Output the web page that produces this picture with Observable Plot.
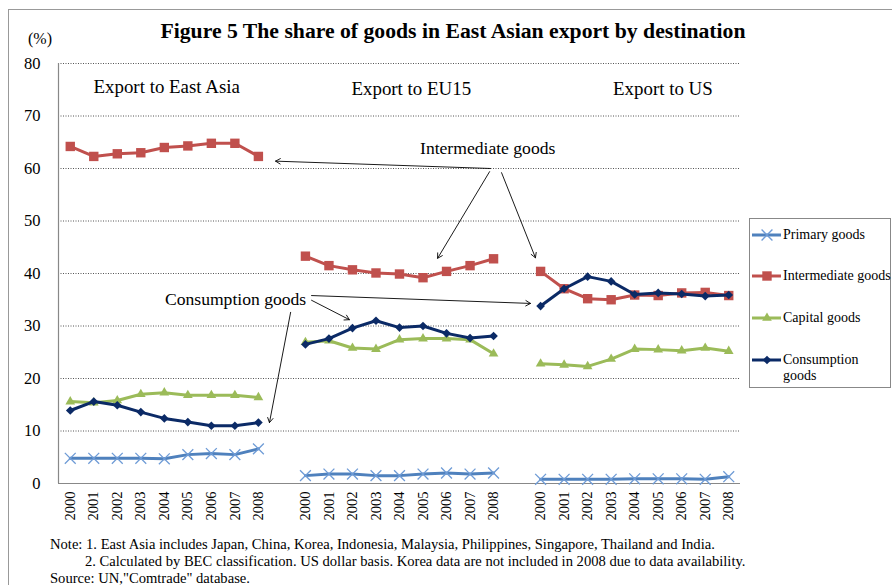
<!DOCTYPE html>
<html><head><meta charset="utf-8">
<script src="https://cdn.jsdelivr.net/npm/d3@7"></script>
<script src="https://cdn.jsdelivr.net/npm/@observablehq/plot@0.6"></script>
<style>
body{margin:0;background:#fff;}
#page{position:relative;width:892px;height:585px;overflow:hidden;font-family:"Liberation Serif","Times New Roman",serif;color:#000;}
#chart{position:absolute;left:0;top:0;}
.frame{position:absolute;left:8px;top:9px;width:900px;height:600px;border-left:1px solid #999;border-top:1px solid #999;}
#title{position:absolute;left:0;width:906px;top:18px;text-align:center;font-weight:bold;font-size:21.7px;line-height:26px;}
#unit{position:absolute;left:28px;top:30px;font-size:16px;}
#legend{position:absolute;left:749px;top:218px;width:140px;height:168px;border:1px solid #888;background:#fff;}
.item{position:absolute;left:2px;font-size:14px;line-height:16px;}
.item svg{position:absolute;left:0;top:0;}
.item span{position:absolute;left:31px;top:0;white-space:nowrap;}
#notes{position:absolute;left:50px;top:536px;font-size:14.6px;line-height:17px;white-space:nowrap;}
</style></head>
<body><div id="page">
<div class="frame"></div>
<div id="chart"></div>
<div id="title">Figure 5 The share of goods in East Asian export by destination</div>
<div id="unit">(%)</div>
<div id="legend"></div>
<div id="notes">Note: 1. East Asia includes Japan, China, Korea, Indonesia, Malaysia, Philippines, Singapore, Thailand and India.<br>
<span style="padding-left:35px">2. Calculated by BEC classification. US dollar basis. Korea data are not included in 2008 due to data availability.</span><br>
Source: UN,"Comtrade" database.</div>
</div>
<script>
// ---- data ----
const years = ["2000","2001","2002","2003","2004","2005","2006","2007","2008"];
const panels = ["Export to East Asia","Export to EU15","Export to US"];
const seriesNames = ["Primary goods","Intermediate goods","Capital goods","Consumption goods"];
// values per panel: East Asia, EU15, US (each 9 years)
const primary = [4.8,4.8,4.8,4.8,4.7,5.5,5.7,5.5,6.6, 1.5,1.8,1.8,1.5,1.5,1.8,2.0,1.8,2.0, 0.8,0.8,0.8,0.8,0.9,0.9,0.9,0.8,1.3];
const intermediate = [64.2,62.3,62.8,63.0,64.0,64.3,64.8,64.8,62.3, 43.3,41.5,40.7,40.1,39.9,39.2,40.4,41.5,42.8, 40.4,37.1,35.2,35.0,35.9,35.8,36.3,36.4,35.8];
const capital = [15.6,15.4,15.8,17.0,17.3,16.8,16.8,16.8,16.4, 26.9,27.2,25.8,25.6,27.4,27.6,27.6,27.4,24.7, 22.8,22.6,22.3,23.7,25.6,25.5,25.3,25.8,25.2];
const consumption = [13.9,15.6,14.9,13.6,12.4,11.7,11.0,11.0,11.6, 26.5,27.6,29.6,31.0,29.7,30.0,28.6,27.7,28.1, 33.8,37.1,39.4,38.5,36.0,36.3,36.1,35.7,35.9];
const yTicks = [0,10,20,30,40,50,60,70,80];

// ---- styles ----
const colors = ["#4F81BD","#C0504D","#9BBB59","#0B2A66"];
const symbols = ["times","square","triangle","diamond2"];
const radii = [5,5.3,3.6,3.9];

const allValues = [primary,intermediate,capital,consumption];
const slot = (p,i) => p*10 + i;  // one empty slot between panels
const rows = [];
allValues.forEach((vals,s) => {
  vals.forEach((v,k) => {
    const p = Math.floor(k/9), i = k%9;
    rows.push({series: seriesNames[s], s, panel: panels[p], idx: slot(p,i), year: years[i], v});
  });
});
const tickIdx = [];
panels.forEach((_,p) => years.forEach((_,i) => tickIdx.push(slot(p,i))));

// annotations (data coordinates)
const panelLabels = [
  {text: panels[0], x: 4.1, y: 75.6},
  {text: "Export to EU15", x: 14.5, y: 75.2},
  {text: "Export to US", x: 25.2, y: 75.2}
];
const noteLabels = [
  {text: "Intermediate goods", x: 17.75, y: 63.8},
  {text: "Consumption goods", x: 7.03, y: 35.0}
];
const arrows = [
  {x1: 17.87, y1: 60.0, x2: 8.73, y2: 61.4},
  {x1: 17.83, y1: 59.4, x2: 15.62, y2: 42.9},
  {x1: 18.34, y1: 59.2, x2: 19.78, y2: 43.0},
  {x1: 10.26, y1: 35.8, x2: 19.57, y2: 34.3},
  {x1: 10.26, y1: 34.9, x2: 11.87, y2: 31.2},
  {x1: 9.37, y1: 32.6, x2: 8.47, y2: 11.6}
];

const seriesMarks = [];
seriesNames.forEach((name,s) => {
  const d = rows.filter(r => r.s === s);
  seriesMarks.push(Plot.line(d, {x: "idx", y: "v", z: "panel", stroke: colors[s], strokeWidth: 3}));
  if (symbols[s] === "times") {
    seriesMarks.push(Plot.dot(d, {x: "idx", y: "v", symbol: "times", r: radii[s], stroke: "#6E9BD6", strokeWidth: 1.3}));
  } else {
    seriesMarks.push(Plot.dot(d, {x: "idx", y: "v", symbol: symbols[s], r: radii[s], fill: colors[s], stroke: "none"}));
  }
});

const chart = Plot.plot({
  width: 892, height: 585,
  marginLeft: 58, marginRight: 152, marginTop: 63, marginBottom: 102,
  style: {fontFamily: "'Liberation Serif','Times New Roman',serif", fontSize: "16px", color: "#000", background: "transparent"},
  x: {type: "linear", domain: [-0.5, 28.5]},
  y: {domain: [0, 80]},
  marks: [
    Plot.gridY(yTicks.slice(1), {stroke: "#555", strokeOpacity: 1, strokeDasharray: "1,1.5", strokeWidth: 1}),
    Plot.ruleX([-0.5], {stroke: "#888", strokeWidth: 1.2}),
    Plot.ruleY([0], {stroke: "#888", strokeWidth: 1.2}),
    Plot.axisY({ticks: yTicks, tickSize: 0, tickPadding: 18, fontSize: 16.5, label: null}),
    Plot.axisX({ticks: tickIdx, tickFormat: i => years[i % 10], tickRotate: -90, tickSize: 0, tickPadding: 8, fontSize: 14.5, label: null}),
    ...seriesMarks,
    Plot.arrow(arrows, {x1: "x1", y1: "y1", x2: "x2", y2: "y2", stroke: "#000", strokeWidth: 0.9, headLength: 9, bend: 0}),
    Plot.text(panelLabels, {x: "x", y: "y", text: "text", fontSize: 18.9, textAnchor: "middle", fill: "#000"}),
    Plot.text(noteLabels, {x: "x", y: "y", text: "text", fontSize: 17.6, textAnchor: "middle", fill: "#000"})
  ]
});
document.getElementById("chart").appendChild(chart);

// legend
const legend = document.getElementById("legend");
const legendTops = [8, 49, 91, 133];
seriesNames.forEach((name,s) => {
  const div = document.createElement("div");
  div.className = "item";
  div.style.top = legendTops[s] + "px";
  const svg = d3.create("svg").attr("width", 30).attr("height", 16);
  svg.append("line").attr("x1", 0).attr("x2", 29).attr("y1", 8).attr("y2", 8).attr("stroke", colors[s]).attr("stroke-width", 3);
  const symMap = {times: d3.symbolTimes, square: d3.symbolSquare, triangle: d3.symbolTriangle, diamond2: d3.symbolDiamond2};
  const p = svg.append("path").attr("transform", "translate(15,8)")
    .attr("d", d3.symbol(symMap[symbols[s]], radii[s]*radii[s]*Math.PI)());
  if (symbols[s] === "times") p.attr("fill", "none").attr("stroke", "#6E9BD6").attr("stroke-width", 1.3);
  else p.attr("fill", colors[s]);
  div.appendChild(svg.node());
  const span = document.createElement("span");
  span.innerHTML = s === 3 ? "Consumption<br>goods" : name;
  div.appendChild(span);
  legend.appendChild(div);
});
</script>
</body></html>
